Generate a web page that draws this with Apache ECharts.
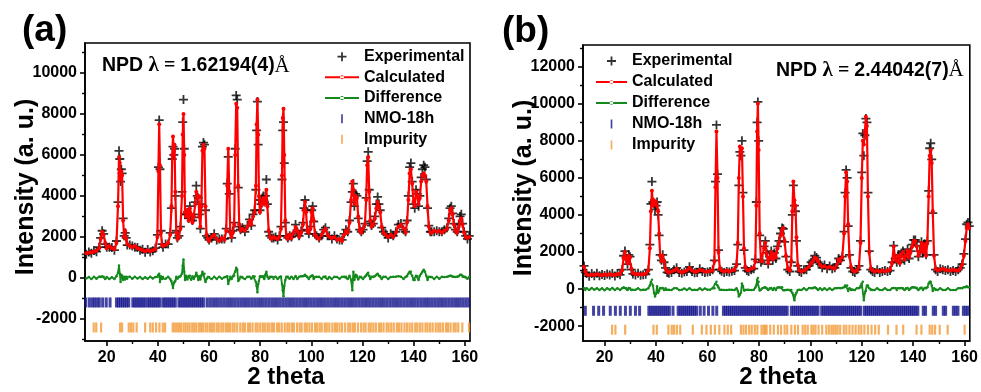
<!DOCTYPE html>
<html><head><meta charset="utf-8">
<script src="https://cdn.jsdelivr.net/npm/echarts@6/dist/echarts.min.js"></script>
<style>html,body{margin:0;padding:0;background:#fff}#c{width:981px;height:392px}</style>
</head><body><div id="c"></div>
<script>
// ---------- Panel (a) : NPD lambda = 1.62194(4) A ----------
const twoThetaA = [
 12,13,14,15,16,17,17.6,18.2,18.8,19.4,20,21,22,23,
 23.8,24.4,24.8,25.1,25.4,25.7,26.0,26.4,26.8,27.2,27.6,28,29,
 30,31,32,33,34,35,36,37,38,39,
 39.8,40.2,40.5,40.8,41.2,41.6,42,
 43,44,44.8,
 45.3,45.6,45.9,46.2,46.5,46.8,47.2,47.6,
 48.2,48.8,
 49.4,49.7,50.0,50.3,50.6,51.0,
 51.5,52,52.5,53,53.5,54,
 54.6,55.0,55.4,55.8,56.2,56.6,57.0,57.4,57.8,58.2,58.6,59.0,59.5,
 60,61,62,63,64,65,66,
 66.7,67.1,67.5,67.9,68.3,68.8,69.3,69.8,70.2,70.6,71.0,71.4,71.8,72.3,
 73,74,75,75.8,76.5,77.2,77.8,
 78.3,78.6,78.9,79.2,79.5,79.9,80.3,
 80.8,81.2,81.6,82.0,82.4,82.8,83.3,83.8,
 84.5,85.2,86,86.8,87.5,88.1,
 88.5,88.8,89.1,89.4,89.8,90.2,
 90.8,91.5,92.2,93,93.8,94.5,95.2,96,
 96.7,97.1,97.5,97.9,98.4,99,99.6,100.1,100.5,100.9,101.4,102,
 103,104,104.8,105.5,106.3,107,108,109,110,111,112,
 112.8,113.5,114.2,114.9,115.5,116.0,116.4,116.8,117.3,117.8,118.3,118.9,119.5,120.2,
 120.9,121.4,121.8,122.2,122.6,123.0,123.5,124.2,
 124.8,125.4,125.9,126.4,126.9,127.5,128.2,
 129,130,131,132,133,134,135,136,136.8,
 137.4,137.9,138.4,138.9,139.4,139.9,140.4,140.9,141.4,141.9,142.4,142.9,143.4,143.9,144.4,144.9,145.4,145.9,146.5,
 147,148,149,150,151,152,153,
 153.7,154.2,154.7,155.2,155.7,156.3,
 157,157.6,158.1,158.6,159.1,159.7,160.3,161,161.7
];
const calcA = [
 1200,1230,1250,1280,1320,1450,1900,2250,2100,1700,1450,1550,1450,1400,
 1700,3500,5900,5600,4800,5200,5000,2800,2000,2300,1900,1650,1550,
 1500,1550,1450,1400,1350,1300,1350,1300,1350,1400,
 2000,5200,7500,5500,2200,1600,1550,
 1600,1700,2100,
 3500,6000,6900,6200,6500,4200,2200,1900,
 2000,2400,
 4000,7000,8000,6000,3200,3000,
 3300,2800,3400,3100,2700,3000,
 3600,4200,3900,4000,3000,2500,3500,6200,6500,6300,3500,2100,1900,
 1800,2000,2100,1900,1800,1950,1850,
 2300,4500,6300,4200,2200,2000,2200,2600,6000,8500,8300,4500,2600,2300,
 2400,2300,2500,2800,2600,3000,3200,
 4500,7500,8700,7000,4000,3200,3500,
 3800,3900,3600,3800,4300,3500,2300,2000,
 1900,2000,1950,1900,2000,2400,
 5000,7800,8250,6000,2800,2000,
 1900,2100,1950,2200,2500,2300,2000,2200,
 2600,3300,3700,3200,2300,2200,2400,3200,3400,2800,2100,2000,
 1900,2100,2300,2400,2100,2000,1950,2000,1850,1900,1800,
 2100,2300,2200,2700,3800,4700,4300,3600,4000,3900,3000,2300,2200,2400,
 2600,3800,5500,5900,4200,2800,2500,2600,
 2900,3400,3700,3500,3200,2500,2200,
 2100,2000,2100,2000,2200,2500,2600,2400,2200,
 2700,3800,5100,5300,4600,3700,3500,4200,4000,3600,3900,4700,5000,5100,5000,4700,3500,2500,2200,
 2200,2300,2250,2300,2200,2300,2400,
 2800,3300,3400,3100,2600,2300,
 2200,2500,2800,2900,2600,2200,2000,1950,2000
];
const obsA = [
 1150,1260,1200,1330,1280,1500,1950,2300,2150,1650,1500,1500,1480,1350,
 1800,3700,6200,5800,4700,5300,5100,2900,2050,2200,1950,1600,1600,
 1550,1500,1480,1350,1400,1250,1380,1260,1320,1450,
 2100,5400,7700,5300,2300,1650,1500,
 1650,1650,2200,
 3400,5800,6400,6000,6300,4000,2300,1950,
 2050,2500,
 4200,7600,8700,6300,3100,3100,
 3200,2900,3500,3000,2800,2950,
 3700,4500,4000,3900,3100,2400,3600,6400,6600,6500,3300,2050,1950,
 1850,1950,2150,1850,1900,1900,1900,
 2400,4600,5900,4100,2250,1950,2300,2700,6300,8900,8700,4400,2500,2350,
 2450,2250,2550,2850,2550,3100,3300,
 4300,7200,8600,6500,3800,3300,3600,
 3900,4000,3700,4000,4800,3600,2250,2050,
 1950,1950,2000,1850,2050,2500,
 4800,7200,7600,5600,2700,2050,
 1950,2050,2000,2150,2600,2250,2050,2300,
 2700,3400,3800,3300,2350,2150,2500,3300,3500,2750,2150,2050,
 1950,2050,2350,2450,2050,2050,1900,2050,1900,1850,1850,
 2150,2350,2250,2800,3700,4200,4600,3500,4100,4000,2900,2350,2250,2350,
 2650,3900,5700,6150,4300,2750,2550,2650,
 3000,3600,3950,3600,3300,2450,2250,
 2150,1950,2150,2050,2250,2600,2650,2350,2250,
 2800,4000,5400,5600,4700,3600,3400,4300,4100,3500,4000,4900,5300,5500,5400,4800,3400,2550,2250,
 2250,2250,2300,2250,2250,2350,2450,
 2900,3400,3500,3150,2650,2350,
 2250,2600,3000,3100,2650,2250,2050,1900,2050
];
const diffA = [
 -30,40,-60,50,-40,60,40,70,50,-60,40,-50,30,-50,
 80,250,600,200,-200,150,100,-100,60,-80,50,-40,60,
 -40,50,-30,40,-60,30,-40,50,-30,40,
 60,150,200,-200,80,-50,40,
 -40,50,-60,
 -150,-300,-500,-250,-200,-150,60,-40,
 50,80,
 200,600,900,300,-100,100,
 -80,90,100,-90,80,-50,
 80,250,100,-100,80,-80,120,300,150,200,-200,-60,40,
 40,-60,50,-50,60,-40,30,
 60,80,-300,-100,50,-60,70,100,300,500,400,-150,-80,50,
 40,-60,50,60,-40,80,70,
 -200,-400,-700,-300,-150,80,60,
 70,80,-60,150,300,60,-40,50,
 50,-40,50,-50,40,70,
 -300,-600,-900,-400,-100,50,
 50,-40,60,-50,90,-50,50,80,
 80,100,150,90,50,-50,60,100,120,-60,40,50,
 50,-50,60,70,-60,40,-50,50,40,-40,50,
 50,60,-50,100,-100,-600,300,-100,150,100,-80,50,40,-50,
 60,100,200,250,100,-60,50,40,
 80,150,200,100,80,-50,50,
 50,-50,40,50,60,80,60,-50,40,
 80,200,300,300,100,-100,-100,100,80,-100,100,200,300,400,300,100,-100,50,40,
 40,-50,50,-40,50,40,50,
 80,100,100,60,50,40,
 50,80,150,150,60,50,40,-40,50
];
const nmoA = [11.8,13.2,14.3,15.2,16.2,17.1,18.4,19.8,21.3,
 23.8,24.6,25.4,26.2,27.0,27.8,28.6,30.2,31.0,31.8,32.6,33.4,34.2,35.0,36.0,36.8,37.6,38.4,39.2,40.0,40.8,
 42.0,42.8,43.6,44.4,45.2,46.0,46.8,48.2,49.0,49.8,50.6,51.4,52.2,53.0,53.8,54.6,55.4,56.2,57.0,57.8,
 59.2,60.3,61.4,62.5,63.6,64.7,65.8,66.9,68.0,69.1,70.2,71.3,72.4,73.5,74.6,75.7,76.8,77.9,79.0,80.1,
 81.2,82.3,83.4,84.5,85.6,86.7,87.8,88.9,90.0,91.1,92.2,93.3,94.4,95.5,96.6,97.7,98.8,99.9,101.0,102.1,
 103.2,104.3,105.4,106.5,107.6,108.7,109.8,110.9,112.0,113.1,114.2,115.3,116.4,117.5,118.6,119.7,120.8,
 121.9,123.0,124.1,125.2,126.3,127.4,128.5,129.6,130.7,131.8,132.9,134.0,135.1,136.2,137.3,138.4,139.5,
 140.6,141.7,142.8,143.9,145.0,146.1,147.2,148.3,149.4,150.5,151.6,152.7,153.8,154.9,156.0,157.1,158.2,
 159.3,160.4,161.5];
const impA = [14.9,15.9,17.8,25.2,26.0,28.6,29.5,30.4,31.7,35.0,37.0,38.0,39.3,40.6,41.9,42.8,
 45.8,46.6,47.4,48.2,49.0,50.0,50.8,51.6,52.4,53.4,54.2,55.0,56.0,56.8,57.6,58.6,59.4,60.4,61.2,62.0,
 63.0,63.8,64.8,65.6,66.6,67.4,68.2,69.2,70.0,71.0,72.2,73.2,74.0,75.2,76.0,77.0,78.2,79.0,80.0,81.0,
 81.8,82.8,83.6,84.6,85.4,86.6,87.4,88.4,89.6,90.6,91.4,92.4,93.2,94.4,95.4,96.2,97.4,98.2,99.2,100.2,
 101.4,102.2,103.2,104.0,105.2,106.0,107.0,108.2,109.2,110.0,111.0,112.0,113.2,114.4,115.2,116.2,117.0,
 118.2,119.4,120.4,121.2,122.4,123.2,124.2,125.2,126.4,127.2,128.2,129.4,130.2,131.2,132.2,133.4,134.2,
 135.2,136.4,137.4,138.4,139.4,140.6,141.4,142.4,143.4,144.6,145.4,146.4,147.4,148.6,149.6,150.4,151.4,
 152.6,153.4,154.4,155.6,156.4,157.4,159.0,161.6];
const nmoOffsetA = -1200, impOffsetA = -2420;

// ---------- Panel (b) : NPD lambda = 2.44042(7) A ----------
const twoThetaB = [
 12,12.5,13,14,15,16,17,18,19,20,21,22,23,24,25,26,
 26.8,27.4,27.9,28.4,28.9,29.4,29.9,30.4,31,32,33,34,35,36,
 37,37.6,38.0,38.4,38.8,39.2,39.6,40.0,40.4,40.8,41.2,41.6,42.1,42.6,43.1,43.7,44.3,
 45,46,47,48,49,50,51,52,53,54,55,56,57,58,59,60,61,62,
 62.7,63.1,63.5,63.9,64.3,64.8,65.5,
 66.5,67.5,68.5,69.5,70.5,71.3,
 71.8,72.2,72.6,73.0,73.4,73.8,74.2,74.7,75.3,
 76,77,78,78.6,
 79.0,79.3,79.6,79.9,80.3,80.8,
 81.4,82,82.5,83,83.6,84.2,84.8,85.4,86,86.6,87.2,87.8,88.4,89.0,89.5,90.0,90.5,91.2,92,
 92.6,93.0,93.4,93.8,94.2,94.6,95.1,95.7,
 96.5,97.5,98.5,99.5,100.3,101,101.7,102.4,103,103.8,104.6,105.5,106.5,107.5,108.5,109.5,
 110.3,111,111.7,112.4,113.1,113.5,113.9,114.3,114.7,115.2,115.8,116.5,117.3,118.1,
 118.9,119.5,120.0,120.4,120.8,121.2,121.6,122.0,122.4,122.9,123.5,124.2,
 125,126,127,128,129,130,131,
 131.8,132.4,133,133.6,134.2,134.8,135.4,136,136.6,137.2,137.8,138.4,139,139.6,140.2,140.8,141.4,142,142.6,143.2,143.8,144.4,145,145.5,
 146.0,146.4,146.8,147.2,147.6,148.1,148.7,
 149.5,150.5,151.5,152.5,153.5,154.5,155.5,156.5,157.5,158.3,159,159.7,160.3,160.8,161.3,161.8
];
const calcB = [
 1200,950,800,750,780,760,800,770,750,790,760,800,780,760,800,820,
 1000,1700,2000,1600,1400,1800,1700,1100,850,800,820,790,800,830,
 1000,2200,4200,5300,4500,4800,4600,4700,4500,4200,3000,1800,1500,1800,1500,1100,950,
 900,950,1000,1100,950,900,950,1000,1150,1000,920,950,1050,1000,930,950,980,1000,
 1500,5500,8500,6000,2000,1100,1000,
 950,1000,950,1000,1050,1300,
 2500,6000,7700,7400,7600,5000,2200,1200,1050,
 1000,1100,1150,1500,
 4500,8500,10000,7500,3000,1500,
 1500,2200,2500,1900,1400,1700,2000,1600,1900,1700,2200,2500,2900,3200,3300,2600,1800,1100,1000,
 1500,4200,5800,4800,4500,2800,1300,1000,
 950,1000,1100,1200,1400,1500,1700,1650,1500,1300,1200,1250,1150,1200,1150,1100,
 1300,1600,1500,1700,3000,5000,6300,5800,3500,1800,1200,1000,950,1000,
 1200,2500,6000,8000,7800,8500,9300,8800,5000,2000,1100,1000,
 950,1000,950,1000,950,1000,1050,
 1400,2300,1600,1500,1800,1400,1900,2000,1600,1800,2100,1700,2000,2300,2600,2600,2300,1800,2000,2500,2000,2400,1800,2500,
 5000,7200,7500,6800,4200,1800,1100,
 1000,1050,1100,1050,1000,1000,1050,1000,1000,1100,1300,1800,2600,3300,3500,3300
];
const obsB = [
 1250,900,840,700,840,720,850,720,790,730,810,760,840,710,840,770,
 1050,1800,2050,1650,1350,1850,1750,1050,820,760,850,750,780,800,
 1050,2400,4600,5800,4700,4600,4300,4500,4700,4000,2900,1850,1550,1850,1450,1150,900,
 860,900,1050,1150,900,860,920,950,1200,950,880,900,1100,950,900,920,950,1050,
 1550,5800,8860,6200,2100,1050,960,
 900,950,920,960,1000,1350,
 2400,5600,7400,7200,8000,5200,2100,1150,1000,
 950,1050,1100,1600,
 4700,9000,10100,8000,2900,1450,
 1550,2300,2600,1950,1350,1750,2050,1550,1950,1650,2300,2600,3000,3300,3250,2550,1750,1050,950,
 1450,4000,5600,4500,4200,2600,1250,950,
 900,1050,1050,1250,1450,1550,1800,1700,1450,1350,1150,1300,1100,1250,1100,1150,
 1350,1650,1550,1750,3100,5200,6430,6000,3400,1850,1150,950,900,1050,
 1250,2600,6300,8400,7200,8300,9200,9000,5200,2050,1050,950,
 900,1050,900,950,1000,950,1000,
 1450,2350,1650,1450,1850,1450,1950,2050,1550,1850,2150,1650,2050,2400,2650,2650,2350,1750,2050,2550,1950,2450,1850,2600,
 5300,7600,7870,7000,4100,1850,1050,
 950,1100,1050,1000,1050,950,1000,950,1050,1150,1350,1900,2700,3500,3600,3400
];
const diffB = [
 50,-50,40,-50,60,-40,50,-50,40,-60,50,-40,60,-50,40,-50,
 50,100,60,50,-50,60,50,-50,-30,-40,40,-50,-30,-40,
 50,200,400,500,200,-200,-400,-250,150,-200,-100,50,40,60,-50,40,-40,
 -40,-50,50,50,-50,-40,30,-50,50,-50,-40,-50,50,-50,30,-30,-30,50,
 50,300,400,200,80,-40,-40,
 -50,-50,-30,-40,-50,50,
 -100,-400,-300,-200,300,150,-80,-50,-40,
 -40,-50,-40,80,
 200,500,600,400,-80,-40,
 50,80,100,50,-50,50,60,-50,60,-50,80,100,80,100,-60,-60,-50,-40,-50,
 -50,-200,-300,-600,-300,-200,-50,-40,
 -50,50,-50,60,50,50,100,50,-50,50,-50,50,-50,50,-50,50,
 50,60,50,60,100,200,150,200,-100,50,-50,-40,-50,50,
 50,100,300,400,-600,-200,-100,200,200,50,-50,-50,
 -50,50,-50,-50,50,-50,-50,
 50,60,50,-50,50,50,60,50,-50,50,60,-50,50,100,100,80,60,-50,50,80,-50,60,50,100,
 300,400,400,200,-100,50,-50,
 -50,50,-50,-50,50,-50,-50,-50,50,50,50,100,100,150,100,100
];
const nmoB = [12.5,15.7,17.7,19.6,22.2,24.2,26.1,28.1,30.0,32.0,33.6,
 37.2,38.0,38.8,39.6,40.4,41.2,42.0,42.8,43.6,44.4,45.2,46.6,48.6,49.4,50.2,51.0,51.8,52.6,53.4,54.2,55.0,55.8,
 57.2,58.7,60.4,62.1,63.6,66.2,67.0,67.8,68.6,69.4,70.2,71.0,71.8,72.6,73.4,74.2,75.0,75.8,76.6,77.4,78.2,
 79.0,79.8,80.6,81.4,82.2,83.0,83.8,84.6,85.4,86.2,87.0,87.8,88.6,89.4,90.2,91.0,92.6,93.4,94.2,95.0,95.8,
 96.6,97.4,98.2,99.0,99.8,100.6,101.4,102.2,103.0,104.4,105.2,106.0,106.8,107.6,108.4,109.2,110.0,110.8,
 111.6,112.4,113.2,114.0,114.8,115.6,116.4,117.2,118.0,118.8,119.6,121.0,121.8,122.6,123.4,124.2,125.0,
 125.8,126.6,127.4,128.2,129.0,129.8,130.6,131.4,132.2,133.0,133.8,134.6,135.4,136.2,137.0,137.8,138.6,
 139.4,140.2,141.0,141.8,143.9,144.8,147.8,148.7,151.7,152.6,155.6,156.5,157.4,159.5,160.4,161.2];
const impB = [22.9,24.2,28.0,39.0,40.3,44.8,46.1,47.0,48.1,49.4,54.3,57.8,59.6,61.3,62.9,64.6,66.6,67.9,69.2,
 73.0,74.0,75.0,76.2,77.2,78.4,79.4,81.0,81.8,82.4,83.0,84.4,85.8,87.4,88.6,90.0,91.0,92.6,94.0,95.2,97.0,
 98.0,99.0,100.4,101.2,102.0,103.2,104.6,106.2,107.2,108.2,109.0,109.8,110.6,111.6,113.0,114.0,115.2,116.4,
 117.6,118.8,119.8,121.0,122.4,123.8,125.2,126.6,130.2,133.5,136.1,141.3,143.2,146.4,147.4,148.5,150.3,
 153.4,160.0];
const nmoOffsetB = -1170, impOffsetB = -2190;

// ---------- axis ticks ----------
const xMajor = [20,40,60,80,100,120,140,160];
const xMinor = [30,50,70,90,110,130,150];
const yMajorA = [-2000,0,2000,4000,6000,8000,10000];
const yMinorA = [-3000,-1000,1000,3000,5000,7000,9000,11000];
const yMajorB = [-2000,0,2000,4000,6000,8000,10000,12000];
const yMinorB = [-1000,1000,3000,5000,7000,9000,11000,13000];

const FONT = '"Liberation Sans", Arial, sans-serif';
const PLUS = 'path://M4,0H6V4H10V6H6V10H4V6H0V4H4Z';
const BAR = 'path://M0,0H1.5V8H0Z';
const LINEDOT = 'path://M0,4H34V6H0Z M15,5a2,2 0 1,0 4,0a2,2 0 1,0 -4,0Z';
const RED = '#ff0000', GREEN = '#14891c', NAVY = '#14148c', ORANGE = '#f39a36';

function pairs(xs, ys){ const n = Math.min(xs.length, ys.length); const out=[]; for(let i=0;i<n;i++) out.push([xs[i], ys[i]]); return out; }
function ticks(xs, y){ return xs.map(x => [x, y]); }

function xAxes(grid, min, max){
  return [
    {gridIndex:grid, type:'value', min, max, position:'bottom',
     axisLine:{show:true,onZero:false,lineStyle:{color:'#000',width:1.6}},
     axisTick:{show:true,inside:false,length:5,customValues:xMajor,lineStyle:{color:'#000',width:1.6}},
     axisLabel:{customValues:xMajor,margin:9,fontSize:16,fontWeight:'bold',color:'#000',fontFamily:FONT,formatter:v=>String(v)},
     splitLine:{show:false}},
    {gridIndex:grid, type:'value', min, max, position:'bottom', offset:0,
     axisLine:{show:false,onZero:false},
     axisTick:{show:true,inside:false,length:3,customValues:xMinor,lineStyle:{color:'#000',width:1.4}},
     axisLabel:{show:false}, splitLine:{show:false}}
  ];
}
function yAxes(grid, min, max, major, minor){
  return [
    {gridIndex:grid, type:'value', min, max, position:'left',
     axisLine:{show:true,onZero:false,lineStyle:{color:'#000',width:1.6}},
     axisTick:{show:true,inside:false,length:5,customValues:major,lineStyle:{color:'#000',width:1.6}},
     axisLabel:{customValues:major,margin:8,fontSize:16,fontWeight:'bold',color:'#000',fontFamily:FONT,formatter:v=>String(v)},
     splitLine:{show:false}},
    {gridIndex:grid, type:'value', min, max, position:'left', offset:0,
     axisLine:{show:false,onZero:false},
     axisTick:{show:true,inside:false,length:3,customValues:minor,lineStyle:{color:'#000',width:1.4}},
     axisLabel:{show:false}, splitLine:{show:false}}
  ];
}
function panelSeries(ax, xs, calc, obs, diff, nmo, imp, nmoY, impY){
  return [
    {name:'Experimental', type:'scatter', xAxisIndex:ax, yAxisIndex:ax, data:pairs(xs, obs),
     symbol:PLUS, symbolSize:9, itemStyle:{color:'#000'}, z:2, silent:true},
    {name:'Calculated', type:'line', xAxisIndex:ax, yAxisIndex:ax, data:pairs(xs, calc),
     symbol:'circle', symbolSize:4, showSymbol:true, showAllSymbol:true,
     lineStyle:{color:RED,width:2.2}, itemStyle:{color:RED}, z:3, silent:true},
    {name:'Difference', type:'line', xAxisIndex:ax, yAxisIndex:ax, data:pairs(xs, diff),
     symbol:'circle', symbolSize:2.5, showSymbol:true, showAllSymbol:true,
     lineStyle:{color:GREEN,width:1.8}, itemStyle:{color:GREEN}, z:3, silent:true},
    {name:'NMO-18h', type:'scatter', xAxisIndex:ax, yAxisIndex:ax, data:ticks(nmo, nmoY),
     symbol:'rect', symbolSize:[3,10], itemStyle:{color:NAVY}, z:2, silent:true},
    {name:'Impurity', type:'scatter', xAxisIndex:ax, yAxisIndex:ax, data:ticks(imp, impY),
     symbol:'rect', symbolSize:[2.2,10], itemStyle:{color:ORANGE}, z:2, silent:true}
  ];
}
function legend(left, top, w, gap){
  return {orient:'vertical', left, top, itemWidth:w, itemHeight:9, itemGap:gap, padding:0,
    selectedMode:false, textStyle:{fontSize:16,fontWeight:'bold',color:'#000',fontFamily:FONT,lineHeight:18},
    data:[{name:'Experimental',icon:PLUS},{name:'Calculated',icon:LINEDOT},{name:'Difference',icon:LINEDOT},
          {name:'NMO-18h',icon:BAR},{name:'Impurity',icon:BAR}]};
}

const chart = echarts.init(document.getElementById('c'));
chart.setOption({
  animation:false,
  backgroundColor:'#fff',
  grid:[
    {left:85, right:511, top:43, bottom:51, show:true, borderColor:'#000', borderWidth:1.6, backgroundColor:'transparent'},
    {left:583, right:11, top:45, bottom:51, show:true, borderColor:'#000', borderWidth:1.6, backgroundColor:'transparent'}
  ],
  xAxis:[...xAxes(0, 11.5, 162), ...xAxes(1, 11.6, 162)],
  yAxis:[...yAxes(0, -3080, 11460, yMajorA, yMinorA), ...yAxes(1, -2800, 13170, yMajorB, yMinorB)],
  legend:[legend(325, 47.7, 34, 2.65), legend(596, 52, 31, 3)],
  series:[
    ...panelSeries(0, twoThetaA, calcA, obsA, diffA, nmoA, impA, nmoOffsetA, impOffsetA),
    ...panelSeries(2, twoThetaB, calcB, obsB, diffB, nmoB, impB, nmoOffsetB, impOffsetB)
  ],
  graphic:[
    {type:'text', x:22, y:31, style:{text:'(a)', font:'bold 37px '+FONT, fill:'#000', verticalAlign:'middle'}},
    {type:'text', x:502, y:32, style:{text:'(b)', font:'bold 37px '+FONT, fill:'#000', verticalAlign:'middle'}},
    {type:'text', x:26, y:187, rotation:Math.PI/2, style:{text:'Intensity (a. u.)', font:'bold 25px '+FONT, fill:'#000', align:'center', verticalAlign:'middle'}},
    {type:'text', x:524, y:188, rotation:Math.PI/2, style:{text:'Intensity (a. u.)', font:'bold 25px '+FONT, fill:'#000', align:'center', verticalAlign:'middle'}},
    {type:'text', x:286, y:377, style:{text:'2 theta', font:'bold 24px '+FONT, fill:'#000', align:'center', verticalAlign:'middle'}},
    {type:'text', x:778, y:377, style:{text:'2 theta', font:'bold 24px '+FONT, fill:'#000', align:'center', verticalAlign:'middle'}},
    {type:'text', x:102, y:66, style:{text:'{a|NPD }{l|λ}{e| = }{a|1.62194(4)}{s|Å}', verticalAlign:'middle',
      rich:{a:{font:'bold 19.5px '+FONT, fill:'#000'}, l:{font:'bold 21px "Liberation Serif", serif', fill:'#000'},
            e:{font:'bold 20px "Liberation Serif", serif', fill:'#000'}, s:{font:'21px "Liberation Serif", serif', fill:'#000'}}}},
    {type:'text', x:776, y:70.5, style:{text:'{a|NPD }{l|λ}{e| = }{a|2.44042(7)}{s|Å}', verticalAlign:'middle',
      rich:{a:{font:'bold 19.5px '+FONT, fill:'#000'}, l:{font:'bold 21px "Liberation Serif", serif', fill:'#000'},
            e:{font:'bold 20px "Liberation Serif", serif', fill:'#000'}, s:{font:'21px "Liberation Serif", serif', fill:'#000'}}}}
  ]
});
</script>
</body></html>
